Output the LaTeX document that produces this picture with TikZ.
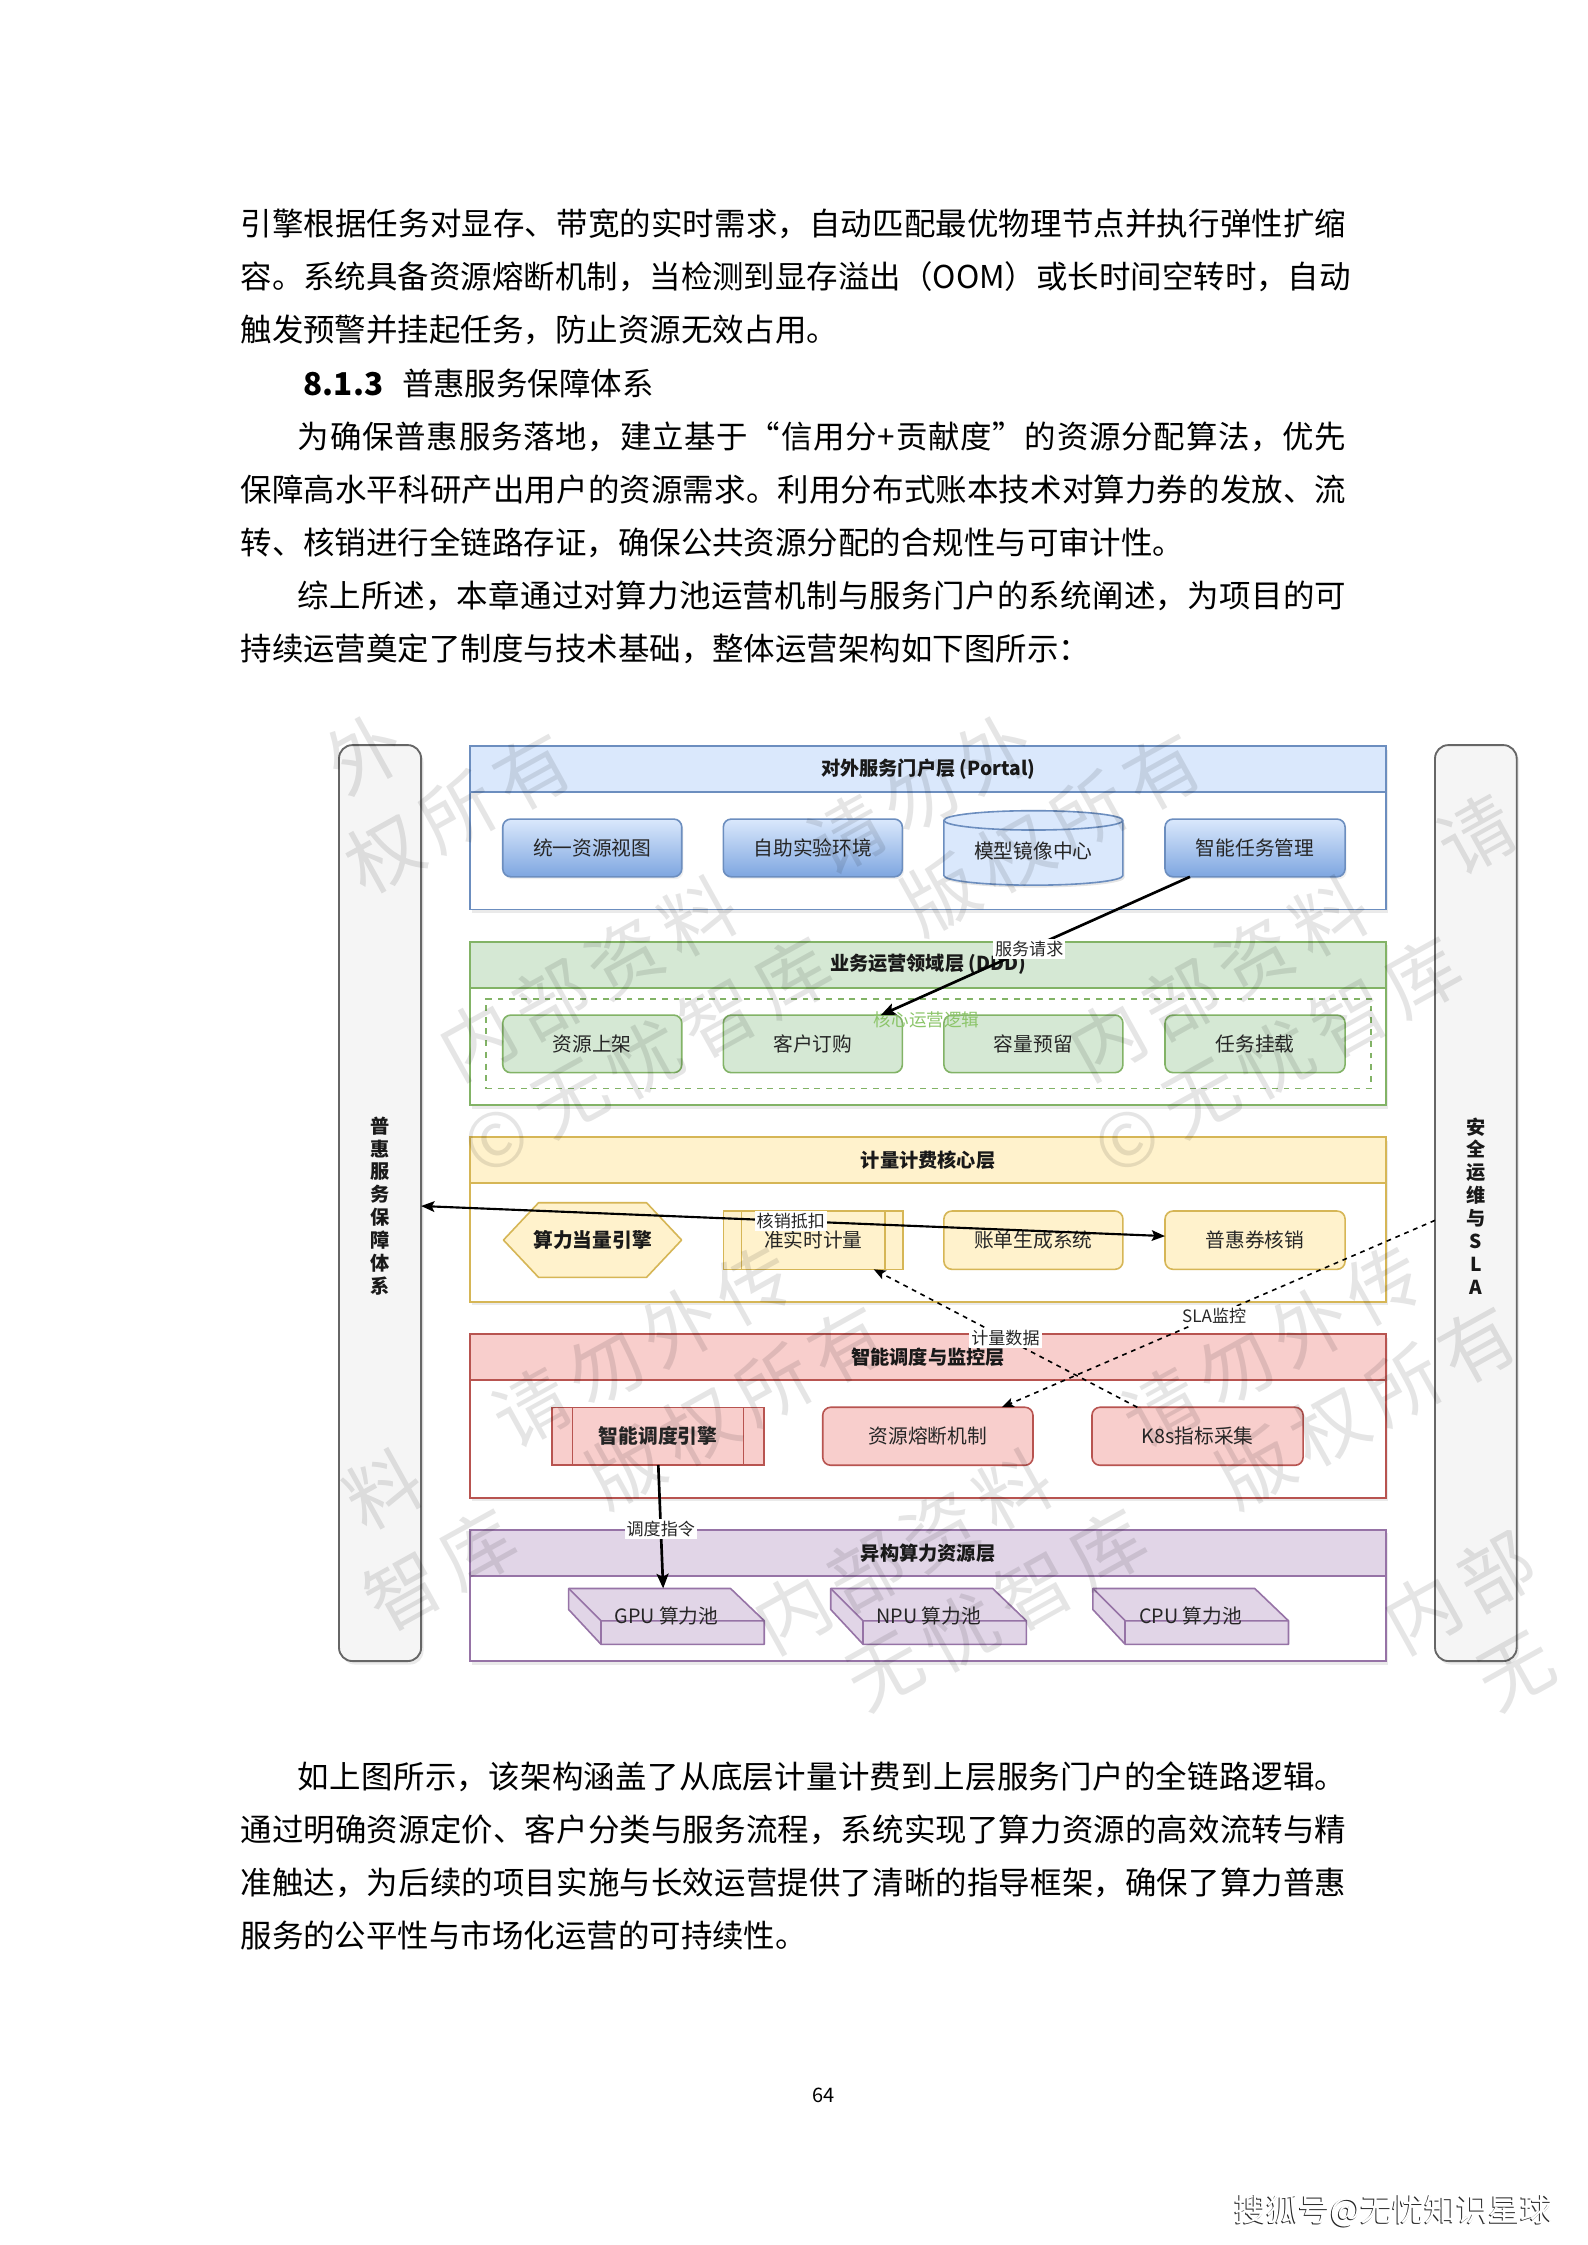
\documentclass[tikz,border=0pt]{standalone}
\usepackage{fontspec}
\setmainfont{Noto Sans CJK SC}
\usetikzlibrary{arrows.meta,shadows}
\definecolor{blueF}{HTML}{DAE8FC}\definecolor{blueS}{HTML}{6C8EBF}\definecolor{blueG}{HTML}{7EA6E0}
\definecolor{greenF}{HTML}{D5E8D4}\definecolor{greenS}{HTML}{82B366}\definecolor{greenT}{HTML}{8CC56A}
\definecolor{yelF}{HTML}{FFF2CC}\definecolor{yelS}{HTML}{D6B656}
\definecolor{redF}{HTML}{F8CECC}\definecolor{redS}{HTML}{B85450}
\definecolor{purF}{HTML}{E1D5E7}\definecolor{purS}{HTML}{9673A6}
\definecolor{grayF}{HTML}{F5F5F5}\definecolor{grayS}{HTML}{666666}
\def\spr#1#2\endspr{#1\ifx\relax#2\relax\else\hfill\spr#2\endspr\fi}
\newcommand\jline[2]{\hbox to #1{\spr#2\endspr}}
\begin{document}
\begin{tikzpicture}[x=0.5373pt,y=-0.5373pt,
 every node/.style={inner sep=0pt,outer sep=0pt},
 sz/.style 2 args={minimum width=#1*0.5373pt,minimum height=#2*0.5373pt},
 body/.style={anchor=base west,font=\fontsize{11.8}{14}\selectfont},
 shd/.style={drop shadow={shadow xshift=0.9pt,shadow yshift=-1.3pt,opacity=0.16}},
 sshd/.style={drop shadow={shadow xshift=0.6pt,shadow yshift=-0.9pt,opacity=0.12}},
 lay/.style={draw=#1,line width=0.7pt,fill=white,shd},
 hdr/.style={draw=#1,line width=0.7pt,font=\fontsize{7.2}{9}\selectfont\bfseries,text=black!90},
 bx/.style={draw=#1,line width=0.6pt,font=\fontsize{7.4}{9}\selectfont,text=black!85},
 rbx/.style={bx=#1,rounded corners=3pt},
 elab/.style={fill=white,inner sep=0.8pt,font=\fontsize{6.4}{7}\selectfont,text=black!85},
 flow/.style={line width=1pt,-{Stealth[length=5.5pt,width=4.5pt,inset=1.2pt]}},
 dflow/.style={line width=0.6pt,dash pattern=on 1.8pt off 1.8pt,-{Stealth[length=4.5pt,width=3.6pt,inset=1pt]}},
 vtxt/.style={align=center,font=\fontsize{7.2}{8.6}\selectfont\bfseries,text=black!90},
 cubes/.style={draw=purS,fill=purF,line width=0.6pt,line join=round},
 wm/.style={font=\fontsize{28}{30}\selectfont,text=black,opacity=0.1,rotate=29}
]
\fill[white] (0,0) rectangle (1108,1567.4);
\useasboundingbox (0,0) rectangle (1108,1567.4);

% ---------- body text ----------
\node[body] (t1) at (168,164.4) {\jline{414.8pt}{引擎根据任务对显存、带宽的实时需求，自动匹配最优物理节点并执行弹性扩缩}};
\node[body] (t2) at (168,201.4) {\jline{414.8pt}{容。系统具备资源熔断机制，当检测到显存溢出（OOM）或长时间空转时，自动}};
\node[body] (t3) at (168,238.4) {触发预警并挂起任务，防止资源无效占用。};
\node[body] (hd) at (212,276.4) {\textbf{8.1.3}\hspace{0.6em}普惠服务保障体系};
\node[body] (t5) at (208,313.4) {\jline{393.3pt}{为确保普惠服务落地，建立基于“信用分+贡献度”的资源分配算法，优先}};
\node[body] (t6) at (168,350.4) {\jline{414.8pt}{保障高水平科研产出用户的资源需求。利用分布式账本技术对算力券的发放、流}};
\node[body] (t7) at (168,387.4) {转、核销进行全链路存证，确保公共资源分配的合规性与可审计性。};
\node[body] (t8) at (208,424.4) {\jline{393.3pt}{综上所述，本章通过对算力池运营机制与服务门户的系统阐述，为项目的可}};
\node[body] (t9) at (168,461.4) {持续运营奠定了制度与技术基础，整体运营架构如下图所示：};
\node[body] (t10) at (208,1248.4) {\jline{393.3pt}{如上图所示，该架构涵盖了从底层计量计费到上层服务门户的全链路逻辑。}};
\node[body] (t11) at (168,1285.4) {\jline{414.8pt}{通过明确资源定价、客户分类与服务流程，系统实现了算力资源的高效流转与精}};
\node[body] (t12) at (168,1322.4) {\jline{414.8pt}{准触达，为后续的项目实施与长效运营提供了清晰的指导框架，确保了算力普惠}};
\node[body] (t13) at (168,1359.4) {服务的公平性与市场化运营的可持续性。};
\node[font=\fontsize{7.5}{9}\selectfont] (pg) at (575,1463) {64};

% ---------- side bars ----------
\node[draw=grayS,fill=grayF,line width=0.7pt,rounded corners=5pt,sz={57.3}{639.5},shd] (lbar) at (265.35,839.95) {};
\node[vtxt] (ltxt) at (265.5,842) {普\\惠\\服\\务\\保\\障\\体\\系};
\node[draw=grayS,fill=grayF,line width=0.7pt,rounded corners=5pt,sz={57}{639.5},shd] (rbar) at (1030.4,839.95) {};
\node[vtxt] (rtxt) at (1030.4,842) {安\\全\\运\\维\\与\\S\\L\\A};

% ---------- portal layer ----------
\node[lay=blueS,sz={639.5}{114}] (portal) at (647.95,578) {};
\node[hdr=blueS,fill=blueF,sz={639.5}{32}] (portalh) at (647.95,537) {对外服务门户层 (Portal)};
\node[rbx=blueS,top color=blueF,bottom color=blueG,sz={125}{40.3},sshd] (view) at (413.5,592) {统一资源视图};
\node[rbx=blueS,top color=blueF,bottom color=blueG,sz={125}{40.3},sshd] (lab) at (567.5,592) {自助实验环境};
\fill[black,opacity=0.1] ([xshift=0.6pt,yshift=-0.9pt]659,572.75) -- ([xshift=0.6pt,yshift=-0.9pt]659,611.25) arc[start angle=180,end angle=360,x radius=33.58pt,y radius=3.627pt] -- ([xshift=0.6pt,yshift=-0.9pt]784,572.75) -- cycle;
\draw[draw=blueS,fill=blueF,line width=0.6pt] (659,572.75) -- (659,611.25) arc[start angle=180,end angle=360,x radius=33.58pt,y radius=3.627pt] -- (784,572.75) arc[start angle=0,end angle=180,x radius=33.58pt,y radius=3.627pt] -- cycle;
\draw[draw=blueS,line width=0.6pt] (659,572.75) arc[start angle=180,end angle=360,x radius=33.58pt,y radius=3.627pt];
\node[font=\fontsize{7.4}{9}\selectfont,text=black!85,sz={125}{52}] (mirror) at (721.5,594) {模型镜像中心};
\node[rbx=blueS,top color=blueF,bottom color=blueG,sz={125.7}{40.3},sshd] (task) at (876.25,592) {智能任务管理};

% ---------- DDD layer ----------
\node[lay=greenS,sz={639.5}{114}] (ddd) at (647.95,714.5) {};
\node[hdr=greenS,fill=greenF,sz={639.5}{32}] (dddh) at (647.95,673.5) {业务运营领域层 (DDD)};
\node[draw=greenS,line width=0.6pt,dash pattern=on 2.2pt off 2.2pt,sz={617.7}{62.5}] (core) at (648.15,728.75) {};
\node[rbx=greenS,fill=greenF,sz={125}{40.2}] (shelf) at (413.5,728.8) {资源上架};
\node[rbx=greenS,fill=greenF,sz={125}{40.2}] (order) at (567.5,728.8) {客户订购};
\node[rbx=greenS,fill=greenF,sz={125}{40.2}] (reserve) at (721.5,728.8) {容量预留};
\node[rbx=greenS,fill=greenF,sz={125.7}{40.2}] (mount) at (876.25,728.8) {任务挂载};
\node[font=\fontsize{6.6}{8}\selectfont,text=greenT] (corel) at (647,712) {核心运营逻辑};

% ---------- billing layer ----------
\node[lay=yelS,sz={639.5}{114.7}] (bill) at (647.95,851.45) {};
\node[hdr=yelS,fill=yelF,sz={639.5}{32}] (billh) at (647.95,810.1) {计量计费核心层};
\draw[draw=yelS,fill=yelF,line width=0.6pt,line join=round] (351.5,865.75) -- (376,839.7) -- (451.4,839.7) -- (475.9,865.75) -- (451.4,891.8) -- (376,891.8) -- cycle;
\node[font=\fontsize{7.4}{9}\selectfont\bfseries,text=black!90,sz={124.4}{52}] (hex) at (413.7,865.75) {算力当量引擎};
\node[bx=yelS,fill=yelF,sz={125.5}{40.7}] (meter) at (567.85,865.85) {准实时计量};
\draw[draw=yelS,line width=0.6pt] ([xshift=6.77pt]meter.north west) -- ([xshift=6.77pt]meter.south west);
\draw[draw=yelS,line width=0.6pt] ([xshift=-6.77pt]meter.north east) -- ([xshift=-6.77pt]meter.south east);
\node[rbx=yelS,fill=yelF,sz={125}{40.7}] (bills) at (721.5,865.85) {账单生成系统};
\node[rbx=yelS,fill=yelF,sz={125.7}{40.7}] (voucher) at (876.25,865.85) {普惠券核销};

% ---------- scheduling layer ----------
\node[lay=redS,sz={639.5}{114.3}] (sched) at (647.95,988.55) {};
\node[hdr=redS,fill=redF,sz={639.5}{32.1}] (schedh) at (647.95,947.45) {智能调度与监控层};
\node[bx=redS,fill=redF,sz={148.4}{40},font=\fontsize{7.4}{9}\selectfont\bfseries] (engine) at (459.4,1002.8) {智能调度引擎};
\draw[draw=redS,line width=0.6pt] ([xshift=7.84pt]engine.north west) -- ([xshift=7.84pt]engine.south west);
\draw[draw=redS,line width=0.6pt] ([xshift=-7.84pt]engine.north east) -- ([xshift=-7.84pt]engine.south east);
\node[rbx=redS,fill=redF,sz={146.8}{40.5}] (fuse) at (647.8,1002.75) {资源熔断机制};
\node[rbx=redS,fill=redF,sz={147.4}{40.5}] (k8s) at (836.1,1002.75) {K8s指标采集};

% ---------- resource layer ----------
\node[lay=purS,sz={639.5}{91.5}] (res) at (647.95,1113.95) {};
\node[hdr=purS,fill=purF,sz={639.5}{32.1}] (resh) at (647.95,1084.25) {异构算力资源层};
\foreach \xo/\nm/\tx in {397/gpu/GPU 算力池,580/npu/NPU 算力池,763/cpu/CPU 算力池}{
  \draw[cubes] (\xo,1109) -- ++(113,0) -- ++(23.6,22.6) -- ++(0,16.4) -- ++(-114,0) -- ++(-22.6,-24.3) -- cycle;
  \draw[cubes,fill=none] (\xo,1109) -- ++(22.6,22.6) -- ++(114,0);
  \draw[cubes,fill=none] (\xo+22.6,1131.6) -- ++(0,16.4);
  \node[font=\fontsize{7.4}{9}\selectfont,text=black!85,sz={136.6}{39}] (\nm) at (\xo+68.3,1128.5) {\tx};
}

% ---------- connectors ----------
\draw[flow] (task.south -| 830.8,0) -- node[elab,pos=0.52] (l1) {服务请求} (order.north -| 615,0);
\draw[line width=0.8pt,{Stealth[length=5pt,width=4pt,inset=1pt]}-{Stealth[length=5pt,width=4pt,inset=1pt]}] (lbar.east |- 0,842) -- node[elab,pos=0.497] (l2) {核销抵扣} (voucher.west |- 0,863);
\draw[dflow] (k8s.north -| 794,0) -- node[elab,pos=0.5] (l3) {计量数据} (meter.south -| 610,0);
\draw[dflow] (rbar.west |- 0,852) -- node[elab,pos=0.51] (l4) {SLA监控} (fuse.north -| 699.5,0);
\draw[flow] (engine.south -| 459.6,0) -- node[elab,pos=0.515] (l5) {调度指令} (gpu.north -| 463,0);

% ---------- watermark ----------
\foreach \i in {-1,0,1,2}{\foreach \j in {0,1}{
  \foreach \k/\ch in {0/内,1/部,2/资,3/料,5/请,6/勿,7/外,8/传}{
    \pgfmathsetmacro\wx{333+440*\i-220*\j+51.6*\k}
    \pgfmathsetmacro\wy{726+400*\j-28.6*\k}
    \pgfmathtruncatemacro\ok{(\wx>235)&&(\wx<1062)&&(\wy>508)&&(\wy<1172)}
    \ifnum\ok=1 \node[wm] (wa\i\j\k) at (\wx,\wy) {\ch};\fi
  }
  \foreach \k/\ch in {0/©,1/无,2/忧,3/智,4/库,6/版,7/权,8/所,9/有}{
    \pgfmathsetmacro\wx{347+440*\i-220*\j+51.6*\k}
    \pgfmathsetmacro\wy{796+400*\j-28.6*\k}
    \pgfmathtruncatemacro\ok{(\wx>235)&&(\wx<1062)&&(\wy>508)&&(\wy<1172)}
    \ifnum\ok=1 \node[wm] (wb\i\j\k) at (\wx,\wy) {\ch};\fi
  }
}}

% ---------- sohu mark ----------
\node[font=\fontsize{12}{14}\selectfont,text=black!85] (sh) at (972,1544) {搜狐号@无忧知识星球};
\node[font=\fontsize{12}{14}\selectfont,text=white] (sh2) at ([xshift=0.45pt,yshift=0.45pt]sh.center) {搜狐号@无忧知识星球};
\end{tikzpicture}
\end{document}
